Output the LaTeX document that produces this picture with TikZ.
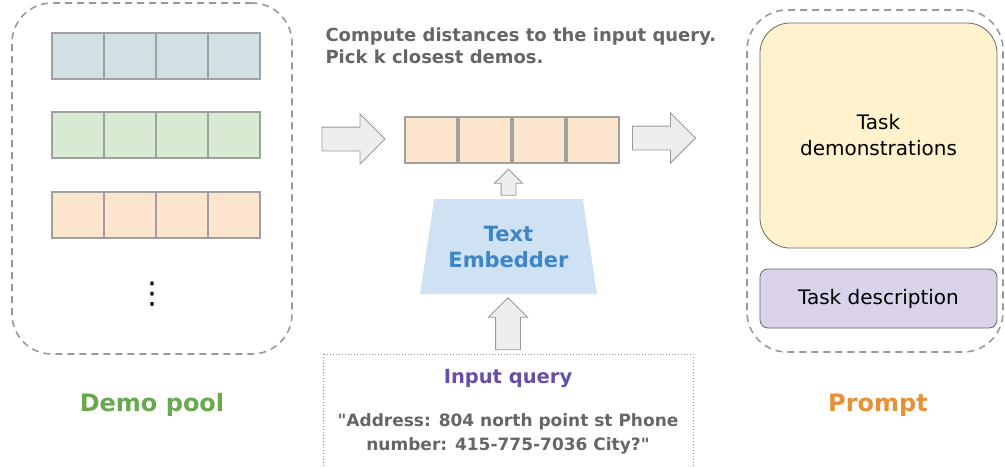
\documentclass[tikz,border=0pt]{standalone}
\usepackage{fontspec}
\setmainfont{DejaVu Sans}[Ligatures=TeXOff]
\usetikzlibrary{positioning,shapes.geometric,shapes.arrows}

\definecolor{dashgray}{HTML}{999999}
\definecolor{cellgray}{HTML}{A0A0A0}
\definecolor{vblue}{HTML}{D0E0E3}
\definecolor{vgreen}{HTML}{D9EAD3}
\definecolor{vorange}{HTML}{FCE5CD}
\definecolor{arrowfill}{HTML}{EEEEEE}
\definecolor{textgray}{HTML}{666666}
\definecolor{embfill}{HTML}{CFE2F3}
\definecolor{embtext}{HTML}{3D85C6}
\definecolor{querytext}{HTML}{674EA7}
\definecolor{pooltext}{HTML}{6AA84F}
\definecolor{prompttext}{HTML}{E69138}
\definecolor{demofill}{HTML}{FFF2CC}
\definecolor{descfill}{HTML}{D9D2E9}

\begin{document}
\begin{tikzpicture}[x=1pt, y=-1pt, node distance={0pt},
    cell/.style = {draw=cellgray, line width=2pt, minimum width=52pt, minimum height=46pt, inner sep=0pt},
    group/.style = {draw=dashgray, line width=1.6pt, dash pattern=on 7pt off 5pt, rounded corners=40pt, inner sep=0pt},
    bigarrow/.style = {single arrow, draw=dashgray, fill=arrowfill, line width=0.8pt, inner sep=#1},
    caption/.style = {font=\bfseries\fontsize{24}{28}\selectfont},
    main/.style = {font=\fontsize{20}{26}\selectfont, align=center, draw=textgray, line width=0.8pt, inner sep=0pt}]
  \clip (0,0) rectangle (1005,467);

  % demo pool
  \node[group, minimum width=280pt, minimum height=351pt] (pool) at (152,178.5) {};
  \foreach \r/\col/\y in {1/vblue/56, 2/vgreen/135, 3/vorange/215}
    \foreach \c in {0,...,3}
      \node[cell, fill=\col] (p\r\c) at (77.5+52*\c,\y) {};
  \node (dots) at (152,294) {\fontsize{30}{30}\selectfont ⋮};
  \node[caption, text=pooltext] (poollabel) at (152,405) {Demo pool};

  % retrieval
  \node[font=\bfseries\fontsize{18}{22}\selectfont, text=textgray, align=left, anchor=west] (note) at (322,46)
    {Compute distances to the input query.\\Pick k closest demos.};
  \node[cell, fill=vorange] (m0) at (431,140) {};
  \node[cell, fill=vorange] (m1) [right=of m0] {};
  \node[cell, fill=vorange] (m2) [right=of m1] {};
  \node[cell, fill=vorange] (m3) [right=of m2] {};
  \node[bigarrow=11.5pt, minimum height=63pt, single arrow head extend=13pt] (a1) at (347.5,139) {};
  \node[bigarrow=11.5pt, minimum height=63pt, single arrow head extend=13pt] (a2) at (658,138) {};

  % embedder
  \node[trapezium, trapezium stretches=true, trapezium angle=76, fill=embfill, minimum width=177pt, minimum height=95pt,
        font=\bfseries\fontsize{21}{26}\selectfont, text=embtext, align=center] (emb) at (508.5,246.5) {Text\\Embedder};
  \node[bigarrow=7pt, minimum height=26pt, single arrow head extend=6.5pt, shape border rotate=90] (a3) at (508.5,186) {};
  \node[bigarrow=12pt, minimum height=52pt, single arrow head extend=7pt, shape border rotate=90] (a4) at (508,330) {};

  % input query
  \draw[dashgray, dotted, line width=1pt] (323,354) rectangle (693,480);
  \node[font=\bfseries\fontsize{19.5}{22}\selectfont, text=querytext] (query) at (508,378) {Input query};
  \node[font=\bfseries\fontsize{17}{24.5}\selectfont, text=textgray, align=center] (example) at (508,434)
    {"Address: 804 north point st Phone\\number: 415-775-7036 City?"};

  % prompt
  \node[group, minimum width=256pt, minimum height=342pt] (prompt) at (875,181) {};
  \node[main, fill=demofill, rounded corners=30pt, minimum width=237pt, minimum height=225pt] (demos) at (878.5,135.5)
    {Task\\demonstrations};
  \node[main, fill=descfill, rounded corners=8pt, minimum width=237pt, minimum height=59pt] (desc) at (878.5,298.5)
    {Task description};
  \node[caption, text=prompttext] (promptlabel) at (878,405) {Prompt};
\end{tikzpicture}
\end{document}
